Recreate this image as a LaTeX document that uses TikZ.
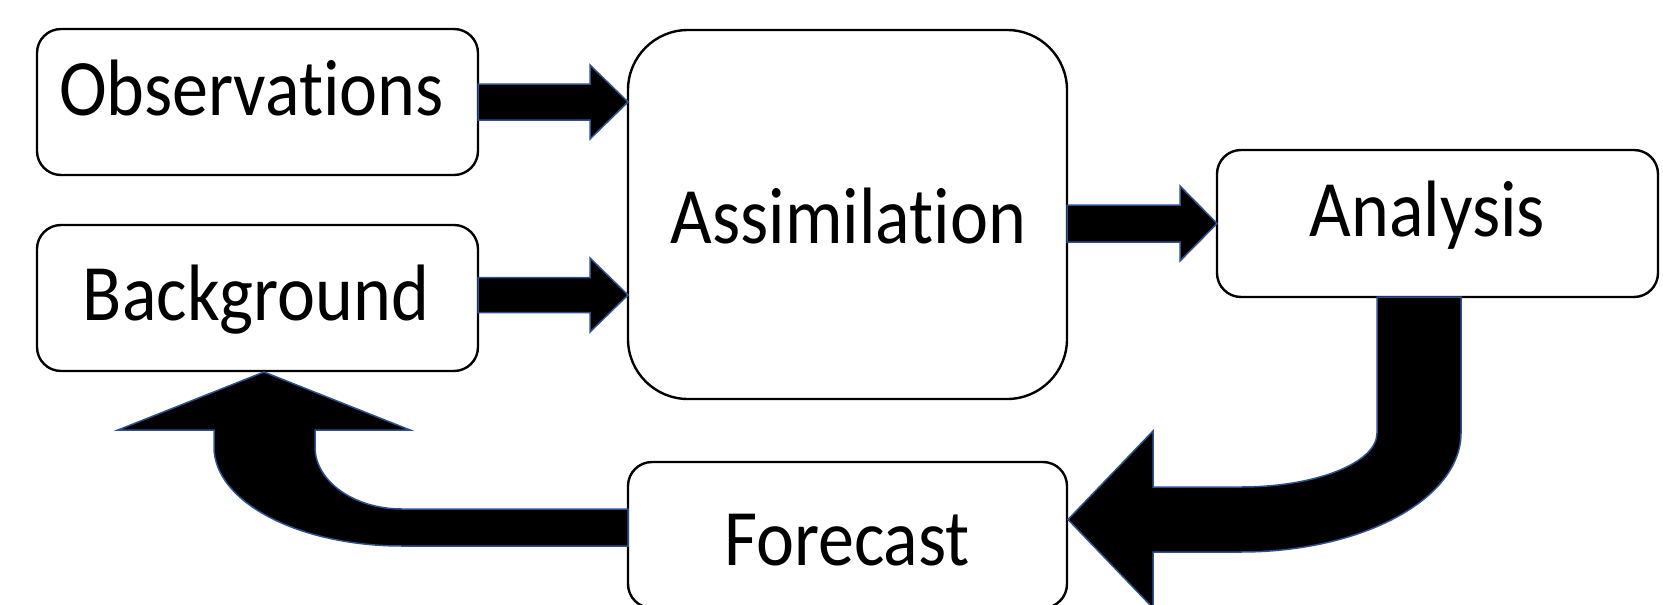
\documentclass[tikz,border=0pt]{standalone}
\usepackage{fontspec}
\newfontfamily\lblfont[FakeStretch=0.9,Ligatures=NoCommon]{Carlito}
\usetikzlibrary{calc}
\definecolor{arrowline}{RGB}{47,82,143}
\begin{document}
\begin{tikzpicture}[x=1pt,y=-1pt,
  box/.style={draw=black, line width=2.4pt, fill=white, rounded corners=24pt,
    inner sep=0pt, outer sep=0pt, minimum width=441pt, minimum height=146pt},
  lbl/.style={anchor=base, inner sep=0pt, font=\lblfont\fontsize{80}{92}\selectfont},
  blockarrow/.style={fill=black, draw=arrowline, line width=1.5pt, line join=miter}]
\useasboundingbox (0,0) rectangle (1663,605);

% boxes
\node[box] (obs) at (257.5,102) {};
\node[box] (bkg) at (257.5,298) {};
\node[box, minimum width=439pt, minimum height=369pt, rounded corners=60pt] (assim) at (847.5,214.5) {};
\node[box, minimum height=147pt] (anal) at (1437.5,223.5) {};
\node[box, minimum width=439pt] (fore) at (847.5,535) {};

% labels
\node[lbl] (obsT) at (251.5,115) {Observations};
\node[lbl] (bkgT) at (256,320) {Background};
\node[lbl] (assimT) at (848.5,243) {Assimilation};
\node[lbl] (analT) at (1427.5,236) {Analysis};
\node[lbl] (foreT) at (847,565) {Forecast};

% helper coordinates
\coordinate (t1) at (assim.west|-obs.east);
\coordinate (s2) at ($(bkg.east)+(0,-3)$);
\coordinate (t2) at ($(assim.west|-bkg.east)+(0,-3)$);
\coordinate (s3) at (assim.east|-anal.west);

% Observations -> Assimilation
\draw[blockarrow] ($(obs.east)+(0,-18)$) -- ($(t1)+(-38,-18)$) -- ($(t1)+(-38,-37)$)
  -- (t1) -- ($(t1)+(-38,37)$) -- ($(t1)+(-38,18)$) -- ($(obs.east)+(0,18)$) -- cycle;

% Background -> Assimilation
\draw[blockarrow] ($(s2)+(0,-17.5)$) -- ($(t2)+(-38,-17.5)$) -- ($(t2)+(-38,-37)$)
  -- (t2) -- ($(t2)+(-38,37)$) -- ($(t2)+(-38,17.5)$) -- ($(s2)+(0,17.5)$) -- cycle;

% Assimilation -> Analysis
\draw[blockarrow] ($(s3)+(0,-18.5)$) -- ($(anal.west)+(-37,-18.5)$) -- ($(anal.west)+(-37,-37.5)$)
  -- (anal.west) -- ($(anal.west)+(-37,37.5)$) -- ($(anal.west)+(-37,18.5)$) -- ($(s3)+(0,18.5)$) -- cycle;

% Analysis -> Forecast (bent)
\draw[blockarrow] ($(anal.south)+(-60.5,0)$) -- ($(anal.south)+(23.5,0)$) -- ($(anal.south)+(23.5,136)$)
  .. controls ($(anal.south)+(23.5,201.7)$) and ($(anal.south)+(-75,255)$) .. ($(anal.south)+(-196.5,255)$)
  -- ($(anal.south)+(-284.5,255)$) -- ($(anal.south)+(-284.5,311)$)
  -- ($(fore.east)+(1,-15.5)$)
  -- ($(anal.south)+(-284.5,134)$) -- ($(anal.south)+(-284.5,190)$) -- ($(anal.south)+(-196.5,190)$)
  .. controls ($(anal.south)+(-121.4,190)$) and ($(anal.south)+(-60.5,165.8)$) .. ($(anal.south)+(-60.5,136)$)
  -- cycle;

% Forecast -> Background (bent)
\draw[blockarrow] ($(fore.west)+(0,-26)$) -- ($(fore.west)+(-226,-26)$)
  .. controls ($(fore.west)+(-274,-26)$) and ($(fore.west)+(-313,-53.8)$) .. ($(fore.west)+(-313,-88)$)
  -- ($(fore.west)+(-313,-105)$) -- ($(fore.west)+(-218,-105)$)
  -- ($(bkg.south)+(6.5,1)$)
  -- ($(fore.west)+(-510,-105)$) -- ($(fore.west)+(-414,-105)$) -- ($(fore.west)+(-414,-88)$)
  .. controls ($(fore.west)+(-414,-33.3)$) and ($(fore.west)+(-329.8,11)$) .. ($(fore.west)+(-226,11)$)
  -- ($(fore.west)+(0,11)$) -- cycle;
\end{tikzpicture}
\end{document}
